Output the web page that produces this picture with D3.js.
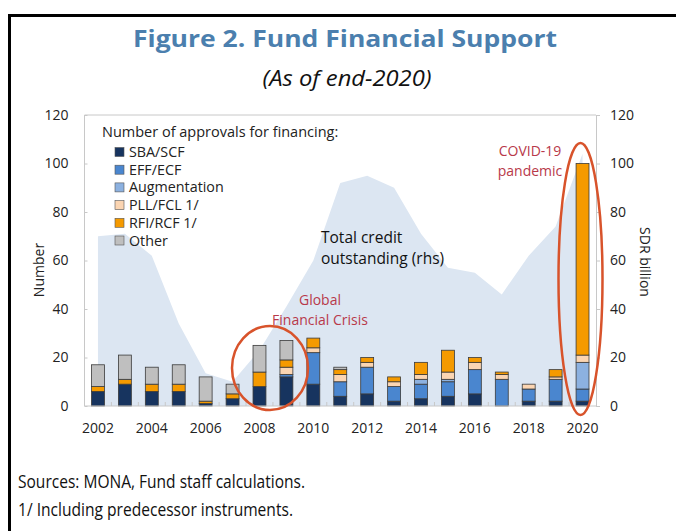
<!DOCTYPE html>
<html>
<head>
<meta charset="utf-8">
<script src="https://cdn.jsdelivr.net/npm/d3@7"></script>
<style>
  body { margin: 0; background: #fff; }
  svg text { font-family: "Open Sans", "Noto Sans", sans-serif; }
</style>
</head>
<body>
<div id="chart"></div>
<script>
// Data
const years = [2002, 2003, 2004, 2005, 2006, 2007, 2008, 2009, 2010, 2011, 2012, 2013, 2014, 2015, 2016, 2017, 2018, 2019, 2020];
const sbaScf = [6, 9, 6, 6, 1, 3, 8, 12, 9, 4, 5, 2, 3, 4, 5, 0, 2, 2, 2];
const effEcf = [0, 0, 0, 0, 0, 0, 0, 1, 13, 6, 11, 6, 6, 6, 10, 11, 5, 9, 5];
const augmentation = [0, 0, 0, 0, 0, 0, 0, 0, 0, 0, 0, 0, 2, 1, 0, 0, 0, 0, 11];
const pllFcl = [0, 0, 0, 0, 0, 0, 0, 3, 2, 3, 2, 2, 2, 3, 3, 2, 2, 1, 3];
const rfiRcf = [2, 2, 3, 3, 1, 2, 6, 3, 4, 2, 2, 2, 5, 9, 2, 1, 0, 3, 79];
const other = [9, 10, 7, 8, 10, 4, 11, 8, 0, 1, 0, 0, 0, 0, 0, 0, 0, 0, 0];
const creditOutstanding = [70, 71, 62, 34, 13.5, 10, 23, 41, 60, 92, 95, 90, 71, 57, 55, 46, 62, 74, 104];
const seriesNames = ["SBA/SCF", "EFF/ECF", "Augmentation", "PLL/FCL 1/", "RFI/RCF 1/", "Other"];
const yTicks = [0, 20, 40, 60, 80, 100, 120];
const xLabels = [2002, 2004, 2006, 2008, 2010, 2012, 2014, 2016, 2018, 2020];

const colors = ["#17345f", "#4a86cf", "#8cb1e0", "#fbd5b2", "#f59a00", "#bfbfbf"];

const width = 676, height = 531;
const svg = d3.select("#chart").append("svg")
    .attr("width", width)
    .attr("height", height);

// Outer frame (runs off the right and bottom edges)
svg.append("rect")
    .attr("x", 9.5).attr("y", 15.5)
    .attr("width", 700).attr("height", 600)
    .attr("fill", "none")
    .attr("stroke", "#000")
    .attr("stroke-width", 3);

// Title and subtitle
svg.append("text")
    .attr("x", 345).attr("y", 47)
    .attr("text-anchor", "middle")
    .attr("textLength", 424)
    .attr("lengthAdjust", "spacingAndGlyphs")
    .style("font-family", "'Open Sans', sans-serif")
    .style("font-weight", "bold")
    .style("font-size", "24px")
    .attr("fill", "#4b7fae")
    .text("Figure 2. Fund Financial Support");

svg.append("text")
    .attr("x", 347).attr("y", 86)
    .attr("text-anchor", "middle")
    .attr("textLength", 169)
    .attr("lengthAdjust", "spacingAndGlyphs")
    .style("font-style", "italic")
    .style("font-size", "21px")
    .attr("fill", "#111")
    .text("(As of end-2020)");

var padding = {top: 115, bottom: 406, left: 84.5, right: 596};

var x = d3.scaleBand()
    .domain(years)
    .range([padding.left, padding.right])
    .paddingInner(0.52)
    .paddingOuter(0.26);

var y = d3.scaleLinear()
    .domain([0, 120])
    .range([padding.bottom, padding.top]);

// Area: total credit outstanding (rhs, same 0-120 range)
var area = d3.area()
    .x((d, i) => x(years[i]) + x.bandwidth() / 2)
    .y0(y(0))
    .y1(d => y(d));

svg.append("path")
    .datum(creditOutstanding)
    .attr("fill", "#dce6f2")
    .attr("d", area);

// Plot frame lines
svg.append("line")
    .attr("x1", padding.left).attr("x2", padding.right)
    .attr("y1", padding.top).attr("y2", padding.top)
    .attr("stroke", "#c8c8c8");
svg.append("line")
    .attr("x1", padding.left).attr("x2", padding.left)
    .attr("y1", padding.top).attr("y2", padding.bottom)
    .attr("stroke", "#c8c8c8");

// Left axis
var yLeft = svg.append("g")
    .attr("transform", "translate(" + padding.left + ",0)")
    .call(d3.axisLeft(y).tickValues(yTicks).tickSize(-3).tickPadding(16));
yLeft.select(".domain").remove();
yLeft.selectAll("line").attr("stroke", "#c8c8c8");
yLeft.selectAll("text").style("font-size", "14px").attr("fill", "#222");

// Right axis
var yRight = svg.append("g")
    .attr("transform", "translate(" + padding.right + ",0)")
    .call(d3.axisRight(y).tickValues(yTicks).tickSize(4).tickPadding(10));
yRight.select(".domain").attr("stroke", "#c8c8c8");
yRight.selectAll("line").attr("stroke", "#c8c8c8");
yRight.selectAll("text").style("font-size", "14px").attr("fill", "#222");

// Stacked bars
var rows = years.map((yr, i) => ({
    year: yr,
    s0: sbaScf[i], s1: effEcf[i], s2: augmentation[i],
    s3: pllFcl[i], s4: rfiRcf[i], s5: other[i]
}));
var stack = d3.stack().keys(["s0", "s1", "s2", "s3", "s4", "s5"])(rows);

svg.append("g").selectAll("g")
    .data(stack)
    .enter().append("g")
        .attr("fill", (d, i) => colors[i])
    .selectAll("rect")
    .data(d => d.filter(p => p[1] > p[0]))
    .enter().append("rect")
        .attr("x", d => x(d.data.year))
        .attr("y", d => y(d[1]))
        .attr("width", x.bandwidth())
        .attr("height", d => y(d[0]) - y(d[1]))
        .attr("stroke", "#3a3a3a")
        .attr("stroke-width", 0.8);

// Bottom axis: line plus ticks between bars
svg.append("line")
    .attr("x1", padding.left).attr("x2", padding.right)
    .attr("y1", padding.bottom).attr("y2", padding.bottom)
    .attr("stroke", "#c8c8c8");
svg.append("g").selectAll("line")
    .data(years.slice(1))
    .enter().append("line")
        .attr("x1", d => x(d) - x.step() * x.paddingInner() / 2)
        .attr("x2", d => x(d) - x.step() * x.paddingInner() / 2)
        .attr("y1", padding.bottom).attr("y2", padding.bottom - 4)
        .attr("stroke", "#c8c8c8");

svg.append("g").selectAll("text")
    .data(xLabels)
    .enter().append("text")
        .attr("x", d => x(d) + x.bandwidth() / 2)
        .attr("y", 433)
        .attr("text-anchor", "middle")
        .style("font-size", "14px")
        .attr("fill", "#222")
        .text(d => d);

// Axis titles
svg.append("text")
    .attr("transform", "translate(44,270) rotate(-90)")
    .attr("text-anchor", "middle")
    .style("font-size", "14px")
    .attr("fill", "#222")
    .text("Number");

svg.append("text")
    .attr("transform", "translate(640,262) rotate(90)")
    .attr("text-anchor", "middle")
    .style("font-size", "14px")
    .attr("fill", "#222")
    .text("SDR billion");

// Legend
svg.append("text")
    .attr("x", 102).attr("y", 137)
    .style("font-size", "14.5px")
    .attr("fill", "#222")
    .text("Number of approvals for financing:");

var legend = svg.append("g").selectAll("g")
    .data(seriesNames)
    .enter().append("g")
        .attr("transform", (d, i) => "translate(115," + (147.5 + i * 17.7) + ")");
legend.append("rect")
    .attr("width", 9).attr("height", 9)
    .attr("fill", (d, i) => colors[i])
    .attr("stroke", "#555")
    .attr("stroke-width", 0.6);
legend.append("text")
    .attr("x", 14).attr("y", 9.5)
    .style("font-size", "14.3px")
    .attr("fill", "#222")
    .text(d => d);

// Annotations
svg.append("text")
    .style("font-size", "15.5px")
    .attr("fill", "#111")
    .selectAll("tspan")
    .data(["Total credit", "outstanding (rhs)"])
    .enter().append("tspan")
        .attr("x", 321)
        .attr("y", (d, i) => 243 + i * 21)
        .text(d => d);

svg.append("text")
    .attr("text-anchor", "middle")
    .style("font-size", "14px")
    .attr("fill", "#b8394a")
    .selectAll("tspan")
    .data(["Global", "Financial Crisis"])
    .enter().append("tspan")
        .attr("x", 320)
        .attr("y", (d, i) => 305 + i * 19.5)
        .text(d => d);

svg.append("text")
    .attr("text-anchor", "middle")
    .style("font-size", "14px")
    .attr("fill", "#b8394a")
    .selectAll("tspan")
    .data(["COVID-19", "pandemic"])
    .enter().append("tspan")
        .attr("x", 530)
        .attr("y", (d, i) => 156 + i * 20)
        .text(d => d);

// Highlight ellipses
svg.append("ellipse")
    .attr("cx", 270).attr("cy", 368)
    .attr("rx", 38).attr("ry", 42)
    .attr("fill", "none")
    .attr("stroke", "#d8532b")
    .attr("stroke-width", 2.5);

svg.append("ellipse")
    .attr("cx", 580.5).attr("cy", 279)
    .attr("rx", 22).attr("ry", 136)
    .attr("fill", "none")
    .attr("stroke", "#d8532b")
    .attr("stroke-width", 2.5);

// Footnotes
svg.append("text")
    .attr("x", 18).attr("y", 488)
    .attr("textLength", 287)
    .attr("lengthAdjust", "spacingAndGlyphs")
    .style("font-size", "19px")
    .attr("fill", "#111")
    .text("Sources: MONA, Fund staff calculations.");
svg.append("text")
    .attr("x", 18).attr("y", 516)
    .attr("textLength", 275)
    .attr("lengthAdjust", "spacingAndGlyphs")
    .style("font-size", "19px")
    .attr("fill", "#111")
    .text("1/ Including predecessor instruments.");
</script>
</body>
</html>
